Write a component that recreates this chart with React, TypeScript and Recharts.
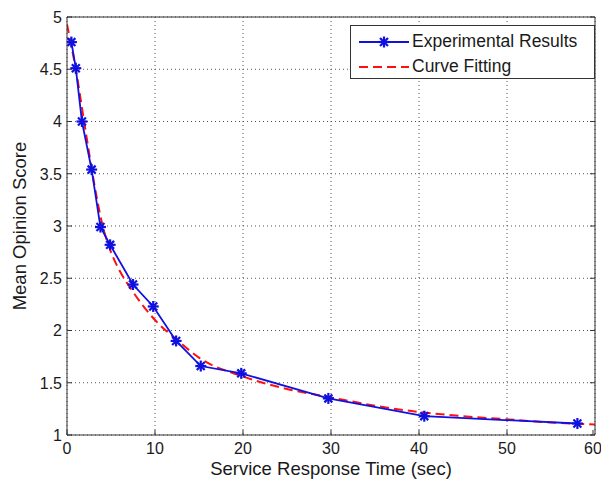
import React from "react";
import {
  ComposedChart,
  Line,
  XAxis,
  YAxis,
  CartesianGrid,
  Legend,
} from "recharts";

const expX = [0.5, 1.0, 1.7, 2.8, 3.8, 4.9, 7.5, 9.8, 12.4, 15.2, 19.8, 29.7, 40.6, 58];
const expY = [4.76, 4.51, 4.0, 3.54, 2.99, 2.82, 2.44, 2.23, 1.9, 1.66, 1.59, 1.35, 1.18, 1.11];

const fitX = [0, 0.5, 1, 2, 3, 4, 5, 6, 7.5, 10, 12.5, 15, 20, 25, 30, 35, 40, 45, 50, 55, 60];
const fitY = [4.93, 4.72, 4.5, 3.97, 3.45, 3.02, 2.75, 2.57, 2.37, 2.1, 1.91, 1.74, 1.56, 1.44, 1.36, 1.28, 1.22, 1.18, 1.15, 1.12, 1.1];

const xTicks = [0, 10, 20, 30, 40, 50, 60];
const yTicks = [1, 1.5, 2, 2.5, 3, 3.5, 4, 4.5, 5];

const seriesNames = ["Experimental Results", "Curve Fitting"];
const xTitle = "Service Response Time (sec)";
const yTitle = "Mean Opinion Score";

const expData = expX.map((x, i) => ({ x, y: expY[i] }));
const fitData = fitX.map((x, i) => ({ x, y: fitY[i] }));

const FONT = "'Liberation Sans', Arial, sans-serif";
const BLUE = "#1010e0";
const RED = "#ff1010";
const AXIS = "#333";
const TXT = "#1a1a1a";
const TM = 6;

const Star = (props: any) => {
  const { cx, cy } = props;
  if (cx == null || cy == null) return null;
  const r = 5.5;
  const d = r * 0.72;
  return (
    <g stroke={BLUE} strokeWidth={2.2}>
      <line x1={cx - r} y1={cy} x2={cx + r} y2={cy} />
      <line x1={cx} y1={cy - r} x2={cx} y2={cy + r} />
      <line x1={cx - d} y1={cy - d} x2={cx + d} y2={cy + d} />
      <line x1={cx - d} y1={cy + d} x2={cx + d} y2={cy - d} />
    </g>
  );
};

const BottomTick = (props: any) => {
  const { x, y, payload } = props;
  const ay = y - TM;
  return (
    <g>
      <line x1={x} y1={ay} x2={x} y2={ay - 5} stroke={AXIS} />
      <text x={x} y={y + 2} dy="0.71em" textAnchor="middle" fontSize={16} fontFamily={FONT} fill={TXT}>
        {payload.value}
      </text>
    </g>
  );
};

const LeftTick = (props: any) => {
  const { x, y, payload } = props;
  const ax = x + TM;
  return (
    <g>
      <line x1={ax} y1={y} x2={ax + 5} y2={y} stroke={AXIS} />
      <text x={x + 1} y={y} dy="0.36em" textAnchor="end" fontSize={16} fontFamily={FONT} fill={TXT}>
        {payload.value}
      </text>
    </g>
  );
};

const TopTick = (props: any) => {
  const { x, y } = props;
  const ay = y + TM;
  return <line x1={x} y1={ay} x2={x} y2={ay + 5} stroke={AXIS} />;
};

const RightTick = (props: any) => {
  const { x, y } = props;
  const ax = x - TM;
  return <line x1={ax} y1={y} x2={ax - 5} y2={y} stroke={AXIS} />;
};

const YTitle = (props: any) => {
  const vb = props.viewBox || {};
  const cx = 19;
  const cy = (vb.y || 0) + (vb.height || 0) / 2;
  return (
    <text
      x={cx}
      y={cy}
      transform={`rotate(-90 ${cx} ${cy})`}
      textAnchor="middle"
      dominantBaseline="central"
      fontSize={18.5}
      fontFamily={FONT}
      fill={TXT}
    >
      {yTitle}
    </text>
  );
};

const XTitle = (props: any) => {
  const vb = props.viewBox || {};
  const cx = (vb.x || 0) + (vb.width || 0) / 2;
  const cy = (vb.y || 0) + 33;
  return (
    <text x={cx} y={cy} textAnchor="middle" dominantBaseline="central" fontSize={18.5} fontFamily={FONT} fill={TXT}>
      {xTitle}
    </text>
  );
};

const LegendBox = () => (
  <div
    style={{
      border: "1px solid #333",
      background: "#fff",
      width: 245,
      height: 54,
      boxSizing: "border-box",
      fontFamily: FONT,
      fontSize: 17.5,
      color: TXT,
      padding: "3px 0 0 7px",
    }}
  >
    <div style={{ display: "flex", alignItems: "center", height: 25 }}>
      <svg width={52} height={14} style={{ marginRight: 2 }}>
        <line x1={1} y1={7} x2={51} y2={7} stroke={BLUE} strokeWidth={2} />
        <Star cx={26} cy={7} />
      </svg>
      <span>{seriesNames[0]}</span>
    </div>
    <div style={{ display: "flex", alignItems: "center", height: 25 }}>
      <svg width={52} height={14} style={{ marginRight: 2 }}>
        <line x1={1} y1={7} x2={51} y2={7} stroke={RED} strokeWidth={2} strokeDasharray="9 5" />
      </svg>
      <span>{seriesNames[1]}</span>
    </div>
  </div>
);

export default function App() {
  return (
    <div style={{ position: "absolute", left: 0, top: 0, width: 601, height: 484, background: "#fff" }}>
      <ComposedChart
        width={601}
        height={484}
        margin={{ top: 0, right: 0, bottom: 0, left: 0 }}
      >
        <CartesianGrid stroke="#555" strokeDasharray="1 3" />
        <XAxis
          dataKey="x"
          type="number"
          domain={[0, 60]}
          ticks={xTicks}
          allowDataOverflow
          height={49}
          tickSize={0}
          tickMargin={TM}
          tickLine={false}
          axisLine={{ stroke: AXIS }}
          tick={<BottomTick />}
          label={<XTitle />}
        />
        <YAxis
          dataKey="y"
          type="number"
          domain={[1, 5]}
          ticks={yTicks}
          allowDataOverflow
          width={67}
          tickSize={0}
          tickMargin={TM}
          tickLine={false}
          axisLine={{ stroke: AXIS }}
          tick={<LeftTick />}
          label={<YTitle />}
        />
        <XAxis
          xAxisId="top"
          orientation="top"
          type="number"
          domain={[0, 60]}
          ticks={xTicks}
          allowDataOverflow
          height={17}
          tickSize={0}
          tickMargin={TM}
          tickLine={false}
          axisLine={{ stroke: AXIS }}
          tick={<TopTick />}
        />
        <YAxis
          yAxisId="right"
          orientation="right"
          type="number"
          domain={[1, 5]}
          ticks={yTicks}
          allowDataOverflow
          width={6}
          tickSize={0}
          tickMargin={TM}
          tickLine={false}
          axisLine={{ stroke: AXIS }}
          tick={<RightTick />}
        />
        <Line
          data={fitData}
          dataKey="y"
          name={seriesNames[1]}
          type="monotone"
          stroke={RED}
          strokeWidth={2}
          strokeDasharray="9 5"
          dot={false}
          activeDot={false}
          isAnimationActive={false}
        />
        <Line
          data={expData}
          dataKey="y"
          name={seriesNames[0]}
          type="linear"
          stroke={BLUE}
          strokeWidth={1.8}
          dot={<Star />}
          activeDot={false}
          isAnimationActive={false}
        />
        <Legend
          layout="horizontal"
          verticalAlign="middle"
          align="center"
          content={<LegendBox />}
          wrapperStyle={{ left: 350, top: 25, width: 245, height: 54 }}
        />
      </ComposedChart>
    </div>
  );
}
